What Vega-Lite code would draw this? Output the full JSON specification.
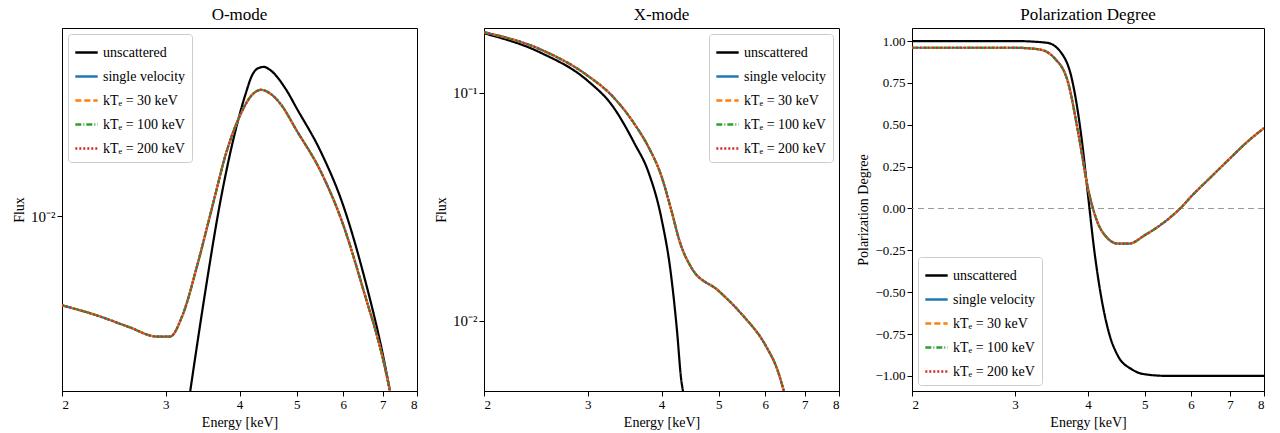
{
"$schema":"https://vega.github.io/schema/vega-lite/v6.json",
"background":"white",
"padding":{"left":12,"top":5,"right":8,"bottom":5},
"config":{"font":"Liberation Serif","view":{"stroke":"black","strokeWidth":1},
"axis":{"grid":false,"domainColor":"black","tickColor":"black","labelColor":"black","titleColor":"black","labelFontSize":13,"titleFontSize":14,"titleFontWeight":"normal"},
"title":{"fontSize":17,"fontWeight":"normal"},
"legend":{"labelFontSize":14,"strokeColor":"#ccc","fillColor":"white","padding":6,"cornerRadius":3,"symbolStrokeWidth":2.5,"symbolSize":500,"symbolType":"stroke","title":null,"rowPadding":4}},
"spacing":16,
"resolve":{"scale":{"color":"independent","strokeDash":"independent","y":"independent"},"legend":{"color":"independent"}},
"datasets":{
"o":[
{"s":"unscattered","E":3.3,"y":0.002},{"s":"unscattered","E":3.5,"y":0.005},{"s":"unscattered","E":3.7,"y":0.011},{"s":"unscattered","E":3.9,"y":0.02},{"s":"unscattered","E":4.1,"y":0.031},{"s":"unscattered","E":4.2,"y":0.0365},{"s":"unscattered","E":4.3,"y":0.039},{"s":"unscattered","E":4.4,"y":0.0395},{"s":"unscattered","E":4.5,"y":0.0385},{"s":"unscattered","E":4.8,"y":0.032},{"s":"unscattered","E":5.0,"y":0.027},{"s":"unscattered","E":5.5,"y":0.018},{"s":"unscattered","E":6.0,"y":0.011},{"s":"unscattered","E":6.5,"y":0.0058},{"s":"unscattered","E":7.0,"y":0.0028},{"s":"unscattered","E":7.2,"y":0.002},
{"E":2.0,"y":0.0044},{"E":2.3,"y":0.004},{"E":2.6,"y":0.0036},{"E":2.9,"y":0.0033},{"E":3.05,"y":0.0033},{"E":3.2,"y":0.004},{"E":3.4,"y":0.0065},{"E":3.6,"y":0.011},{"E":3.8,"y":0.018},{"E":4.0,"y":0.025},{"E":4.2,"y":0.0305},{"E":4.35,"y":0.032},{"E":4.5,"y":0.031},{"E":4.7,"y":0.028},{"E":5.0,"y":0.022},{"E":5.5,"y":0.015},{"E":6.0,"y":0.0092},{"E":6.5,"y":0.005},{"E":7.0,"y":0.0027},{"E":7.2,"y":0.002}],
"x":[
{"s":"unscattered","E":2.0,"y":0.183},{"s":"unscattered","E":2.5,"y":0.15},{"s":"unscattered","E":3.0,"y":0.113},{"s":"unscattered","E":3.3,"y":0.088},{"s":"unscattered","E":3.6,"y":0.06},{"s":"unscattered","E":3.8,"y":0.045},{"s":"unscattered","E":4.0,"y":0.028},{"s":"unscattered","E":4.15,"y":0.016},{"s":"unscattered","E":4.25,"y":0.009},{"s":"unscattered","E":4.32,"y":0.0055},{"s":"unscattered","E":4.35,"y":0.0049},
{"E":2.0,"y":0.185},{"E":2.5,"y":0.155},{"E":3.0,"y":0.119},{"E":3.3,"y":0.097},{"E":3.6,"y":0.073},{"E":3.8,"y":0.058},{"E":4.0,"y":0.043},{"E":4.15,"y":0.031},{"E":4.3,"y":0.022},{"E":4.5,"y":0.017},{"E":5.0,"y":0.0135},{"E":5.5,"y":0.0105},{"E":6.0,"y":0.0078},{"E":6.3,"y":0.006},{"E":6.45,"y":0.0049}],
"p":[
{"s":"unscattered","E":2.0,"y":1.0},{"s":"unscattered","E":3.0,"y":1.0},{"s":"unscattered","E":3.4,"y":0.99},{"s":"unscattered","E":3.6,"y":0.93},{"s":"unscattered","E":3.75,"y":0.78},{"s":"unscattered","E":3.9,"y":0.42},{"s":"unscattered","E":4.0,"y":0.08},{"s":"unscattered","E":4.1,"y":-0.25},{"s":"unscattered","E":4.2,"y":-0.5},{"s":"unscattered","E":4.35,"y":-0.75},{"s":"unscattered","E":4.5,"y":-0.88},{"s":"unscattered","E":4.75,"y":-0.96},{"s":"unscattered","E":5.0,"y":-0.99},{"s":"unscattered","E":5.5,"y":-1.0},{"s":"unscattered","E":8.0,"y":-1.0},
{"E":2.0,"y":0.96},{"E":3.0,"y":0.96},{"E":3.3,"y":0.95},{"E":3.5,"y":0.9},{"E":3.7,"y":0.75},{"E":3.85,"y":0.45},{"E":4.0,"y":0.12},{"E":4.15,"y":-0.08},{"E":4.3,"y":-0.17},{"E":4.5,"y":-0.21},{"E":4.7,"y":-0.21},{"E":5.0,"y":-0.16},{"E":5.5,"y":-0.06},{"E":5.75,"y":0.0},{"E":6.0,"y":0.07},{"E":6.5,"y":0.19},{"E":7.0,"y":0.3},{"E":7.5,"y":0.4},{"E":8.0,"y":0.48}]
},
"hconcat":[
{"title":"O-mode","width":355,"height":363,
"data":{"name":"o"},
"transform":[{"calculate":"datum.s ? [datum.s] : ['single velocity','kTₑ = 30 keV','kTₑ = 100 keV','kTₑ = 200 keV']","as":"ss"},{"flatten":["ss"]}],
"mark":{"type":"line","clip":true,"strokeWidth":2.2,"interpolate":"monotone"},
"encoding":{
"x":{"field":"E","type":"quantitative","scale":{"type":"log","domain":[2,8],"nice":false},"axis":{"values":[2,3,4,5,6,7,8],"format":"d","title":"Energy [keV]"}},
"y":{"field":"y","type":"quantitative","scale":{"type":"log","domain":[0.002,0.0565],"nice":false},"axis":{"values":[0.01],"labelExpr":"'10⁻²'","labelFontSize":15,"title":"Flux"}},
"color":{"field":"ss","type":"nominal","scale":{"domain":["unscattered","single velocity","kTₑ = 30 keV","kTₑ = 100 keV","kTₑ = 200 keV"],"range":["black","#1f77b4","#ff7f0e","#2ca02c","#d62728"]},"legend":{"orient":"top-left","offset":6}},
"strokeDash":{"field":"ss","type":"nominal","scale":{"domain":["unscattered","single velocity","kTₑ = 30 keV","kTₑ = 100 keV","kTₑ = 200 keV"],"range":[[1,0],[1,0],[6,3],[6,2,1,2],[2,2]]},"legend":null}}},
{"title":"X-mode","width":355,"height":363,
"data":{"name":"x"},
"transform":[{"calculate":"datum.s ? [datum.s] : ['single velocity','kTₑ = 30 keV','kTₑ = 100 keV','kTₑ = 200 keV']","as":"ss"},{"flatten":["ss"]}],
"mark":{"type":"line","clip":true,"strokeWidth":2.2,"interpolate":"monotone"},
"encoding":{
"x":{"field":"E","type":"quantitative","scale":{"type":"log","domain":[2,8],"nice":false},"axis":{"values":[2,3,4,5,6,7,8],"format":"d","title":"Energy [keV]"}},
"y":{"field":"y","type":"quantitative","scale":{"type":"log","domain":[0.0049,0.193],"nice":false},"axis":{"values":[0.01,0.1],"labelExpr":"datum.value > 0.05 ? '10⁻¹' : '10⁻²'","labelFontSize":15,"title":"Flux"}},
"color":{"field":"ss","type":"nominal","scale":{"domain":["unscattered","single velocity","kTₑ = 30 keV","kTₑ = 100 keV","kTₑ = 200 keV"],"range":["black","#1f77b4","#ff7f0e","#2ca02c","#d62728"]},"legend":{"orient":"top-right","offset":6}},
"strokeDash":{"field":"ss","type":"nominal","scale":{"domain":["unscattered","single velocity","kTₑ = 30 keV","kTₑ = 100 keV","kTₑ = 200 keV"],"range":[[1,0],[1,0],[6,3],[6,2,1,2],[2,2]]},"legend":null}}},
{"title":"Polarization Degree","width":352,"height":363,
"layer":[
{"data":{"values":[{"z":0}]},"mark":{"type":"rule","color":"#999","strokeDash":[6,4],"strokeWidth":1},"encoding":{"y":{"field":"z","type":"quantitative"}}},
{"data":{"name":"p"},
"transform":[{"calculate":"datum.s ? [datum.s] : ['single velocity','kTₑ = 30 keV','kTₑ = 100 keV','kTₑ = 200 keV']","as":"ss"},{"flatten":["ss"]}],
"mark":{"type":"line","clip":true,"strokeWidth":2.2,"interpolate":"monotone"},
"encoding":{
"x":{"field":"E","type":"quantitative","scale":{"type":"log","domain":[2,8],"nice":false},"axis":{"values":[2,3,4,5,6,7,8],"format":"d","title":"Energy [keV]"}},
"y":{"field":"y","type":"quantitative","scale":{"domain":[-1.09,1.078],"nice":false,"zero":false},"axis":{"values":[-1,-0.75,-0.5,-0.25,0,0.25,0.5,0.75,1],"format":".2f","title":"Polarization Degree"}},
"color":{"field":"ss","type":"nominal","scale":{"domain":["unscattered","single velocity","kTₑ = 30 keV","kTₑ = 100 keV","kTₑ = 200 keV"],"range":["black","#1f77b4","#ff7f0e","#2ca02c","#d62728"]},"legend":{"orient":"bottom-left","offset":6}},
"strokeDash":{"field":"ss","type":"nominal","scale":{"domain":["unscattered","single velocity","kTₑ = 30 keV","kTₑ = 100 keV","kTₑ = 200 keV"],"range":[[1,0],[1,0],[6,3],[6,2,1,2],[2,2]]},"legend":null}}}]}
]}
